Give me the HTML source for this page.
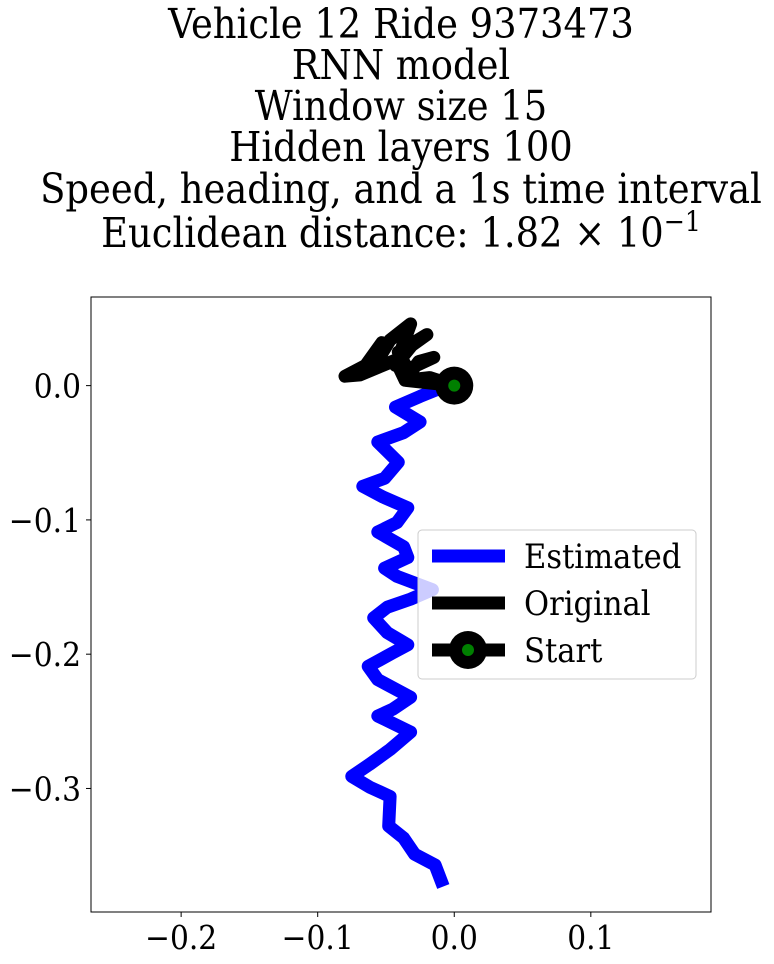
<!DOCTYPE html>
<html><head><meta charset="utf-8"><style>
body{margin:0;background:#fff;width:774px;height:959px;overflow:hidden}
svg text{font-family:"DejaVu Serif Condensed","DejaVu Serif","Liberation Serif",serif;font-stretch:condensed}
</style></head><body>
<svg id="chart" width="774" height="959" xmlns="http://www.w3.org/2000/svg">
<g font-size="41" text-anchor="middle" fill="#000">
<text x="401" y="38">Vehicle 12 Ride 9373473</text>
<text x="401" y="79">RNN model</text>
<text x="401" y="120">Window size 15</text>
<text x="401" y="161">Hidden layers 100</text>
<text x="401" y="203">Speed, heading, and a 1s time interval</text>
<text x="401" y="247">Euclidean distance: 1.82 × 10<tspan dy="-16" font-size="28">−1</tspan></text>
</g>
<g id="plot"></g>
</svg>
<script>
const estX=[-0.008,-0.025,-0.043,-0.025,-0.037,-0.056,-0.041,-0.051,-0.067,-0.052,-0.034,-0.042,-0.056,-0.037,-0.034,-0.051,-0.042,-0.016,-0.032,-0.049,-0.059,-0.049,-0.034,-0.045,-0.063,-0.056,-0.032,-0.045,-0.056,-0.032,-0.047,-0.062,-0.075,-0.062,-0.047,-0.048,-0.037,-0.029,-0.014,-0.008];
const estY=[-0.001,-0.008,-0.016,-0.027,-0.035,-0.042,-0.057,-0.069,-0.075,-0.083,-0.091,-0.102,-0.109,-0.120,-0.128,-0.136,-0.142,-0.152,-0.159,-0.165,-0.173,-0.184,-0.193,-0.199,-0.209,-0.219,-0.232,-0.241,-0.246,-0.258,-0.271,-0.282,-0.291,-0.299,-0.306,-0.328,-0.337,-0.349,-0.357,-0.373];
const origX=[0,-0.018,-0.036,-0.026,-0.015,-0.034,-0.041,-0.020,-0.031,-0.043,-0.032,-0.047,-0.056,-0.053,-0.065,-0.080,-0.069,-0.043,-0.036,0];
const origY=[0,0.006,0.004,0.018,0.021,0.012,0.025,0.038,0.030,0.015,0.046,0.034,0.019,0.032,0.015,0.007,0.008,0.019,0.004,0];
const startPt=[0,0];
const xTicks=[-0.2,-0.1,0.0,0.1];
const xTickLabels=["−0.2","−0.1","0.0","0.1"];
const yTicks=[0.0,-0.1,-0.2,-0.3];
const yTickLabels=["0.0","−0.1","−0.2","−0.3"];
const legendLabels=["Estimated","Original","Start"];

const X0=91,X1=711,Y0=297,Y1=912;
const xmin=-0.266,xmax=0.188,ymin=-0.392,ymax=0.066;
const sx=v=>X0+(v-xmin)/(xmax-xmin)*(X1-X0);
const sy=v=>Y1-(v-ymin)/(ymax-ymin)*(Y1-Y0);
const NS="http://www.w3.org/2000/svg";
const g=document.getElementById('plot');
function mk(t,a,p){const e=document.createElementNS(NS,t);for(const k in a)e.setAttribute(k,a[k]);(p||g).appendChild(e);return e;}

const clip=mk('clipPath',{id:'clp'});mk('rect',{x:X0,y:Y0,width:X1-X0,height:Y1-Y0},clip);
const pg=mk('g',{'clip-path':'url(#clp)'});
function path(xs,ys){return xs.map((v,i)=>(i?'L':'M')+sx(v).toFixed(1)+' '+sy(ys[i]).toFixed(1)).join(' ');}
const est=mk('path',{d:path(estX,estY),fill:'none',stroke:'#0000ff','stroke-width':13,'stroke-linejoin':'round','stroke-linecap':'butt'},pg);


const org=mk('path',{d:path(origX,origY),fill:'none',stroke:'#000','stroke-width':13,'stroke-linejoin':'round','stroke-linecap':'round'},pg);


const s1=mk('circle',{cx:sx(startPt[0]),cy:sy(startPt[1]),r:19,fill:'#000'},pg);


mk('circle',{cx:sx(startPt[0]),cy:sy(startPt[1]),r:6,fill:'#008000'},pg);

const frame=mk('rect',{x:X0,y:Y0,width:X1-X0,height:Y1-Y0,fill:'none',stroke:'#000','stroke-width':1});



xTicks.forEach((v,i)=>{const x=sx(v);
 mk('line',{x1:x,x2:x,y1:Y1,y2:Y1+5,stroke:'#000'});
 const t=mk('text',{x:x,y:Y1+37,'font-size':33,'text-anchor':'middle'});t.textContent=xTickLabels[i];
 
 
});
yTicks.forEach((v,i)=>{const y=sy(v);
 mk('line',{x1:X0-5,x2:X0,y1:y,y2:y,stroke:'#000'});
 const t=mk('text',{x:X0-10,y:y+12,'font-size':33,'text-anchor':'end'});t.textContent=yTickLabels[i];
 
 
});

const lg=mk('g',{});


mk('rect',{x:418,y:530,width:278,height:149,rx:4,fill:'rgba(255,255,255,0.8)',stroke:'#ccc'},lg);
const ly=[556,603,650],lc=['#0000ff','#000','#000'];
legendLabels.forEach((l,i)=>{
 mk('line',{x1:432,x2:505,y1:ly[i],y2:ly[i],stroke:lc[i],'stroke-width':13},lg);
 if(i==2){mk('circle',{cx:468,cy:ly[i],r:19,fill:'#000'},lg);mk('circle',{cx:468,cy:ly[i],r:6,fill:'#008000'},lg);}
 const t=mk('text',{x:524,y:ly[i]+12,'font-size':34},lg);t.textContent=l;
 
 
});
</script>
</body></html>
